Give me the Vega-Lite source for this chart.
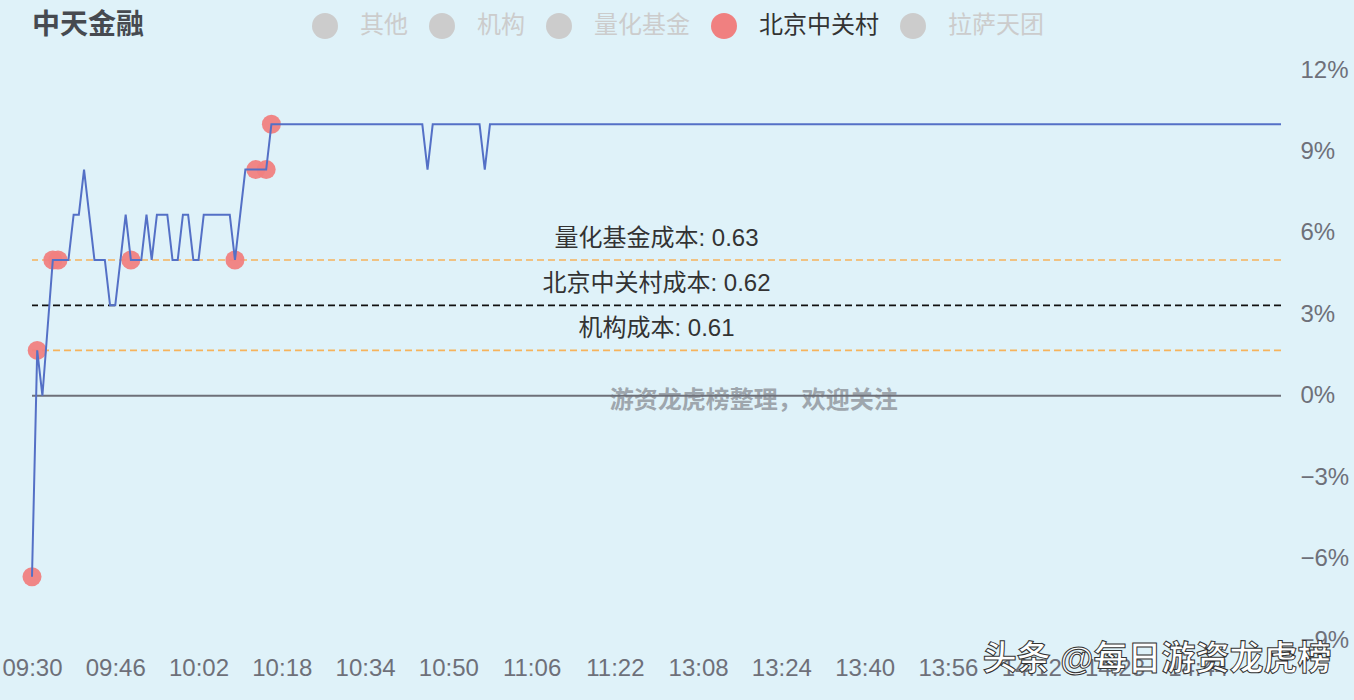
{
  "$schema": "https://vega.github.io/schema/vega-lite/v6.json",
  "width": 1249,
  "height": 570,
  "autosize": {"type": "none"},
  "padding": {"left": 32, "top": 70, "right": 73, "bottom": 60},
  "background": "#dff2f9",
  "config": {
    "font": "Liberation Sans, Noto Sans CJK SC",
    "view": {"stroke": null},
    "axis": {"grid": false, "domain": false, "ticks": false, "title": null, "labelFontSize": 24, "labelColor": "#6e7079"}
  },
  "title": {"text": "中天金融", "anchor": "start", "frame": "group", "fontSize": 28, "fontWeight": "bold", "color": "#464a50", "offset": -41, "baseline": "middle"},
  "datasets": {
    "line": [
      {"idx": 0, "pct": -6.67}, {"idx": 1, "pct": 1.67}, {"idx": 2, "pct": 0}, {"idx": 4, "pct": 5},
      {"idx": 7, "pct": 5}, {"idx": 8, "pct": 6.67}, {"idx": 9, "pct": 6.67}, {"idx": 10, "pct": 8.33},
      {"idx": 12, "pct": 5}, {"idx": 14, "pct": 5}, {"idx": 15, "pct": 3.33}, {"idx": 16, "pct": 3.33},
      {"idx": 18, "pct": 6.67}, {"idx": 19, "pct": 5}, {"idx": 21, "pct": 5}, {"idx": 22, "pct": 6.67},
      {"idx": 23, "pct": 5}, {"idx": 24, "pct": 6.67}, {"idx": 26, "pct": 6.67}, {"idx": 27, "pct": 5},
      {"idx": 28, "pct": 5}, {"idx": 29, "pct": 6.67}, {"idx": 30, "pct": 6.67}, {"idx": 31, "pct": 5},
      {"idx": 32, "pct": 5}, {"idx": 33, "pct": 6.67}, {"idx": 38, "pct": 6.67}, {"idx": 39, "pct": 5},
      {"idx": 41, "pct": 8.33}, {"idx": 45, "pct": 8.33}, {"idx": 46, "pct": 10}, {"idx": 75, "pct": 10},
      {"idx": 76, "pct": 8.33}, {"idx": 77, "pct": 10}, {"idx": 86, "pct": 10}, {"idx": 87, "pct": 8.33},
      {"idx": 88, "pct": 10}, {"idx": 240, "pct": 10}
    ],
    "trades": [
      {"idx": 0, "pct": -6.67, "series": "北京中关村"},
      {"idx": 1, "pct": 1.67, "series": "北京中关村"},
      {"idx": 4, "pct": 5, "series": "北京中关村"},
      {"idx": 5, "pct": 5, "series": "北京中关村"},
      {"idx": 19, "pct": 5, "series": "北京中关村"},
      {"idx": 39, "pct": 5, "series": "北京中关村"},
      {"idx": 43, "pct": 8.33, "series": "北京中关村"},
      {"idx": 45, "pct": 8.33, "series": "北京中关村"},
      {"idx": 46, "pct": 10, "series": "北京中关村"}
    ],
    "cost": [
      {"series": "量化基金", "pct": 5, "label": "量化基金成本: 0.63"},
      {"series": "北京中关村", "pct": 3.33, "label": "北京中关村成本: 0.62"},
      {"series": "机构", "pct": 1.67, "label": "机构成本: 0.61"}
    ]
  },
  "layer": [
    {
      "data": {"values": [{"label": "游资龙虎榜整理，欢迎关注"}]},
      "mark": {"type": "text", "fontSize": 24, "fontWeight": "bold", "color": "#9ea6ad", "baseline": "middle", "align": "center"},
      "encoding": {
        "x": {"datum": 138.7, "type": "quantitative", "scale": {"domain": [0, 240], "nice": false, "zero": false}},
        "y": {"datum": -0.18, "type": "quantitative", "scale": {"domain": [-9, 12], "nice": false}},
        "text": {"field": "label"}
      }
    },
    {
      "data": {"values": [{"v": 0}]},
      "mark": {"type": "rule", "color": "#6e7079", "strokeWidth": 2},
      "encoding": {
        "y": {"field": "v", "type": "quantitative", "scale": {"domain": [-9, 12], "nice": false}}
      }
    },
    {
      "data": {"name": "cost"},
      "transform": [{"filter": "datum.series !== '北京中关村'"}],
      "mark": {"type": "rule", "color": "#f6b35c", "strokeWidth": 1.6, "strokeDash": [7, 4]},
      "encoding": {
        "y": {"field": "pct", "type": "quantitative", "scale": {"domain": [-9, 12], "nice": false}}
      }
    },
    {
      "data": {"name": "cost"},
      "transform": [{"filter": "datum.series === '北京中关村'"}],
      "mark": {"type": "rule", "color": "#111111", "strokeWidth": 1.8, "strokeDash": [7, 4]},
      "encoding": {
        "y": {"field": "pct", "type": "quantitative", "scale": {"domain": [-9, 12], "nice": false}}
      }
    },
    {
      "data": {"name": "cost"},
      "mark": {"type": "text", "fontSize": 24, "color": "#333333", "baseline": "middle", "align": "center", "dy": -21},
      "encoding": {
        "x": {"datum": 120, "type": "quantitative", "scale": {"domain": [0, 240], "nice": false, "zero": false}},
        "y": {"field": "pct", "type": "quantitative", "scale": {"domain": [-9, 12], "nice": false}},
        "text": {"field": "label"}
      }
    },
    {
      "data": {"name": "trades"},
      "mark": {"type": "point", "filled": true, "size": 361, "opacity": 0.95, "shape": "circle"},
      "encoding": {
        "x": {"field": "idx", "type": "quantitative", "scale": {"domain": [0, 240], "nice": false, "zero": false}},
        "y": {"field": "pct", "type": "quantitative", "scale": {"domain": [-9, 12], "nice": false}},
        "color": {
          "field": "series", "type": "nominal",
          "scale": {"domain": ["其他", "机构", "量化基金", "北京中关村", "拉萨天团"], "range": ["#cccccc", "#cccccc", "#cccccc", "#f08080", "#cccccc"]},
          "legend": {
            "title": null, "orient": "none", "legendX": 280, "legendY": -57, "direction": "horizontal",
            "symbolType": "circle", "symbolSize": 676, "symbolStrokeWidth": 0, "symbolOpacity": 1,
            "labelFontSize": 24, "labelOffset": 22, "columnPadding": 21, "labelLimit": 300, "labelColor": "#cccccc",
            "encode": {"labels": {"update": {"fill": {"signal": "datum.label === '北京中关村' ? '#333333' : '#cccccc'"}}}}
          }
        }
      }
    },
    {
      "data": {"name": "line"},
      "mark": {"type": "line", "color": "#5470c6", "strokeWidth": 2},
      "encoding": {
        "x": {
          "field": "idx", "type": "quantitative",
          "scale": {"domain": [0, 240], "nice": false, "zero": false},
          "axis": {
            "values": [0, 16, 32, 48, 64, 80, 96, 112, 128, 144, 160, 176, 192, 208, 224],
            "labelExpr": "format(floor((datum.value <= 120 ? 570 + datum.value : 660 + datum.value) / 60), '02d') + ':' + format((datum.value <= 120 ? 570 + datum.value : 660 + datum.value) % 60, '02d')",
            "labelPadding": 16, "labelFlush": false, "labelOverlap": false, "zindex": 0
          }
        },
        "y": {
          "field": "pct", "type": "quantitative",
          "scale": {"domain": [-9, 12], "nice": false},
          "axis": {
            "orient": "right", "values": [-9, -6, -3, 0, 3, 6, 9, 12],
            "labelExpr": "format(datum.value, 'd') + '%'",
            "labelPadding": 19, "labelAlign": "left", "labelOverlap": false, "zindex": 0
          }
        }
      }
    },
    {
      "data": {"values": [{"label": "头条 @每日游资龙虎榜"}]},
      "mark": {"type": "text", "fontSize": 34, "fontWeight": "bold", "color": "#ffffff", "stroke": "#333333", "strokeWidth": 1, "baseline": "middle", "align": "left"},
      "encoding": {
        "x": {"datum": 182.7, "type": "quantitative", "scale": {"domain": [0, 240], "nice": false, "zero": false}},
        "y": {"datum": -9.73, "type": "quantitative", "scale": {"domain": [-9, 12], "nice": false}},
        "text": {"field": "label"}
      }
    }
  ]
}
